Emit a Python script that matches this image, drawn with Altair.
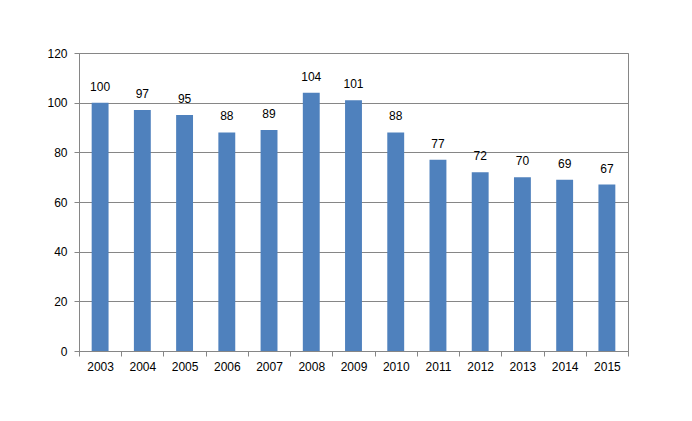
import altair as alt
import pandas as pd

years = ["2003", "2004", "2005", "2006", "2007", "2008", "2009",
         "2010", "2011", "2012", "2013", "2014", "2015"]
values = [100, 97, 95, 88, 89, 104, 101, 88, 77, 72, 70, 69, 67]

df = pd.DataFrame({"year": years, "value": values})

font = "Liberation Sans"

x = alt.X("year:N", title=None, sort=years,
          scale=alt.Scale(paddingInner=0, paddingOuter=0),
          axis=alt.Axis(labelAngle=0, tickBand="extent", tickSize=5,
                        labelPadding=5, domainColor="#868686",
                        tickColor="#868686", labelColor="#000000",
                        labelFont=font, labelFontSize=12))
y = alt.Y("value:Q", title=None,
          scale=alt.Scale(domain=[0, 120], nice=False),
          axis=alt.Axis(values=[0, 20, 40, 60, 80, 100, 120], tickSize=5,
                        labelPadding=7, domainColor="#868686",
                        tickColor="#868686", gridColor="#868686",
                        labelColor="#000000", labelFont=font,
                        labelFontSize=12))

bars = alt.Chart(df).mark_bar(color="#4F81BD", width={"band": 0.4}).encode(x=x, y=y)
labels = alt.Chart(df).mark_text(dy=-9, baseline="bottom", font=font,
                                 fontSize=12, color="#000000").encode(
    x=alt.X("year:N", sort=years), y="value:Q", text="value:Q")

chart = (bars + labels).properties(
    width=549, height=298,
    autosize=alt.AutoSizeParams(type="none"),
    padding={"left": 79, "top": 53, "right": 64, "bottom": 70},
    background="white",
).configure_view(stroke="#868686")

chart.save("out.html", embed_options={"renderer": "svg", "actions": False})
